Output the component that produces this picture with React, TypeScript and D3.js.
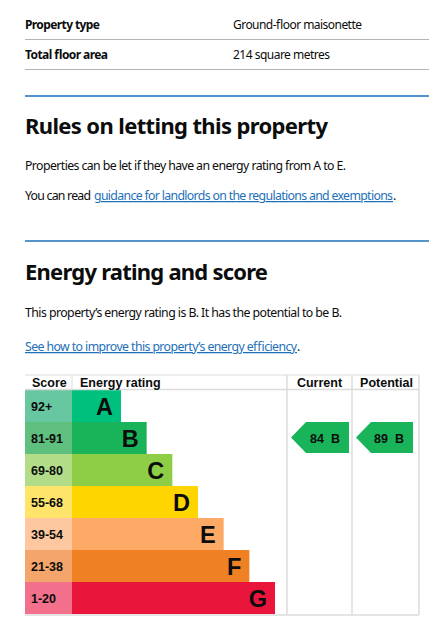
import React from "react";
import * as d3 from "d3";

const bands = ["A", "B", "C", "D", "E", "F", "G"];
const scoreRanges = ["92+", "81-91", "69-80", "55-68", "39-54", "21-38", "1-20"];
const bandColors = ["#00c07e", "#19b459", "#8dce46", "#ffd500", "#fcaa65", "#ef8023", "#e9153b"];
const scoreCellColors = ["#66c7a0", "#5fbf7e", "#b2dc88", "#ffe46c", "#fdc8a0", "#f4a56b", "#f2708c"];
const columnHeaders = ["Score", "Energy rating", "Current", "Potential"];
const currentScore = 84;
const currentBand = "B";
const potentialScore = 89;
const potentialBand = "B";

const summaryLabels = ["Property type", "Total floor area"];
const summaryValues = ["Ground-floor maisonette", "214 square metres"];

const FONT = "'Noto Sans', 'Open Sans', sans-serif";
const ARIAL = "'Liberation Sans', Arial, sans-serif";
const LINK = "#1d70b8";
const GRID = "#dcdcdc";

export default function App() {
  const left = 25;
  const right = 419;
  const headerTop = 375;
  const rowTop = 390;
  const rowBottom = 614;
  const scoreColRight = 72;
  const currentLeft = 287;
  const potentialLeft = 352;

  const y = d3.scaleBand<string>().domain(bands).range([rowTop, rowBottom]).padding(0);
  const barEnd = d3.scaleLinear().domain([0, bands.length - 1]).range([121, 275]);

  const arrow = (x0: number, x1: number, band: string) => {
    const top = y(band)!;
    const h = y.bandwidth() - 1;
    const tip = 15;
    const p = d3.path();
    p.moveTo(x0, top + h / 2);
    p.lineTo(x0 + tip, top);
    p.lineTo(x1, top);
    p.lineTo(x1, top + h);
    p.lineTo(x0 + tip, top + h);
    p.closePath();
    return p.toString();
  };

  const bandColor = (b: string) => bandColors[bands.indexOf(b)];

  return (
    <svg
      width={436}
      height={622}
      style={{ position: "absolute", left: 0, top: 0, background: "#fff" }}
    >
      {/* Summary rows */}
      {summaryLabels.map((lab, i) => (
        <g key={lab}>
          <text x={25} y={29 + i * 30} fontFamily={FONT} fontWeight={700} fontSize={12} fill="#0b0c0c"
            textLength={i === 0 ? 75 : 83}>
            {lab}
          </text>
          <text x={233} y={29 + i * 30} fontFamily={FONT} fontSize={12} fill="#0b0c0c"
            textLength={i === 0 ? 129 : 97}>
            {summaryValues[i]}
          </text>
          <line x1={25} x2={429} y1={39.5 + i * 30} y2={39.5 + i * 30} stroke="#b1b4b6" strokeWidth={1} />
        </g>
      ))}

      <line x1={25} x2={429} y1={96} y2={96} stroke={LINK} strokeWidth={1.5} />
      <text x={25} y={134} fontFamily={FONT} fontWeight={700} fontSize={22} fill="#0b0c0c" textLength={303}>
        Rules on letting this property
      </text>
      <text x={25} y={170} fontFamily={FONT} fontSize={12.3} fill="#0b0c0c" textLength={321}>
        Properties can be let if they have an energy rating from A to E.
      </text>
      <text x={25} y={200} fontFamily={FONT} fontSize={12.3} fill="#0b0c0c">
        <tspan x={25} textLength={66}>You can read</tspan>
        <tspan x={94} fill={LINK} textDecoration="underline" textLength={299}>
          guidance for landlords on the regulations and exemptions
        </tspan>
        <tspan x={393}>.</tspan>
      </text>

      <line x1={25} x2={429} y1={241} y2={241} stroke={LINK} strokeWidth={1.5} />
      <text x={25} y={280} fontFamily={FONT} fontWeight={700} fontSize={22} fill="#0b0c0c" textLength={243}>
        Energy rating and score
      </text>
      <text x={25} y={317} fontFamily={FONT} fontSize={12.3} fill="#0b0c0c" textLength={317}>
        This property’s energy rating is B. It has the potential to be B.
      </text>
      <text x={25} y={351} fontFamily={FONT} fontSize={12.3}>
        <tspan x={25} fill={LINK} textDecoration="underline" textLength={272}>
          See how to improve this property’s energy efficiency
        </tspan>
        <tspan x={297} fill="#0b0c0c">.</tspan>
      </text>

      {/* Chart */}
      <g>
        {bands.map((b, i) => (
          <g key={b}>
            <rect x={left} y={y(b)!} width={scoreColRight - left} height={y.bandwidth()} fill={scoreCellColors[i]} />
            <text x={31} y={y(b)! + y.bandwidth() / 2 + 4.5} fontFamily={ARIAL} fontWeight={700} fontSize={12.5} fill="#0b0c0c">
              {scoreRanges[i]}
            </text>
            <rect x={scoreColRight} y={y(b)!} width={barEnd(i) - scoreColRight} height={y.bandwidth()} fill={bandColors[i]} />
            <text x={barEnd(i) - 8} y={y(b)! + y.bandwidth() / 2 + 8.5} textAnchor="end" fontFamily={ARIAL}
              fontWeight={700} fontSize={23.5} fill="#0b0c0c">
              {b}
            </text>
          </g>
        ))}

        {/* grid */}
        <line x1={left} x2={right} y1={headerTop} y2={headerTop} stroke={GRID} strokeWidth={1} />
        <line x1={left} x2={right} y1={rowTop - 0.5} y2={rowTop - 0.5} stroke={GRID} strokeWidth={1.5} />
        <line x1={left} x2={right} y1={rowBottom + 1} y2={rowBottom + 1} stroke={GRID} strokeWidth={1.5} />
        <line x1={scoreColRight} x2={scoreColRight} y1={headerTop} y2={rowTop} stroke={GRID} strokeWidth={1} />
        {[currentLeft, potentialLeft, right].map((x) => (
          <line key={x} x1={x} x2={x} y1={headerTop} y2={rowBottom + 1} stroke={GRID} strokeWidth={1.5} />
        ))}

        {/* headers */}
        <text x={32} y={387} fontFamily={ARIAL} fontWeight={700} fontSize={12.5} fill="#0b0c0c">{columnHeaders[0]}</text>
        <text x={80} y={387} fontFamily={ARIAL} fontWeight={700} fontSize={12.5} fill="#0b0c0c">{columnHeaders[1]}</text>
        <text x={(currentLeft + potentialLeft) / 2} y={387} textAnchor="middle" fontFamily={ARIAL} fontWeight={700} fontSize={12.5} fill="#0b0c0c">{columnHeaders[2]}</text>
        <text x={(potentialLeft + right) / 2 + 1} y={387} textAnchor="middle" fontFamily={ARIAL} fontWeight={700} fontSize={12.5} fill="#0b0c0c">{columnHeaders[3]}</text>

        {/* current / potential arrows */}
        <path d={arrow(currentLeft + 4, currentLeft + 62, currentBand)} fill={bandColor(currentBand)} />
        <text x={currentLeft + 38} y={y(currentBand)! + y.bandwidth() / 2 + 4.5} textAnchor="middle" fontFamily={ARIAL}
          fontWeight={700} fontSize={12.5} fill="#0b0c0c" style={{ whiteSpace: "pre" }}>
          {`${currentScore}  ${currentBand}`}
        </text>
        <path d={arrow(potentialLeft + 4, potentialLeft + 61, potentialBand)} fill={bandColor(potentialBand)} />
        <text x={potentialLeft + 37} y={y(potentialBand)! + y.bandwidth() / 2 + 4.5} textAnchor="middle" fontFamily={ARIAL}
          fontWeight={700} fontSize={12.5} fill="#0b0c0c" style={{ whiteSpace: "pre" }}>
          {`${potentialScore}  ${potentialBand}`}
        </text>
      </g>
    </svg>
  );
}
